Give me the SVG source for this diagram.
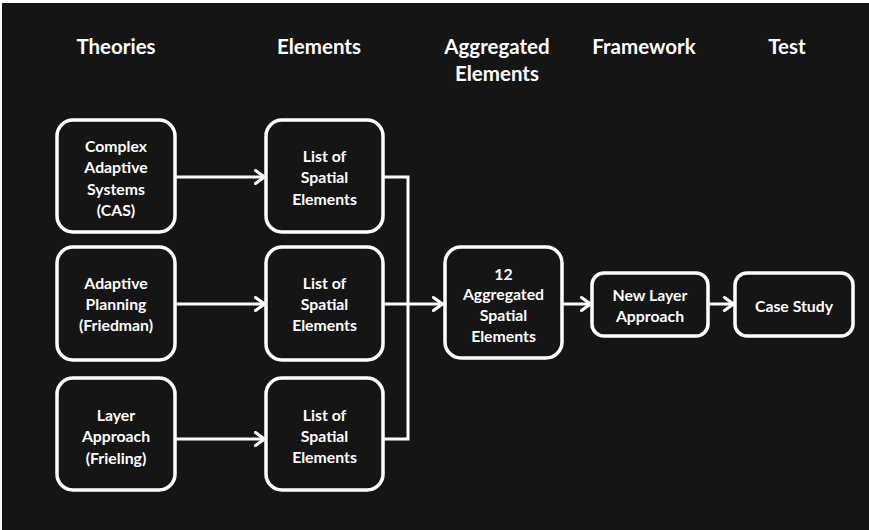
<svg xmlns="http://www.w3.org/2000/svg" width="869" height="530" viewBox="0 0 869 530">
  <defs>
    <marker id="chev" viewBox="0 0 12 16" markerWidth="12" markerHeight="16" refX="11" refY="8" orient="auto" markerUnits="userSpaceOnUse">
      <path d="M1.5,1.5 L10.5,8 L1.5,14.5" fill="none" stroke="#ffffff" stroke-width="3" stroke-linecap="round" stroke-linejoin="round"/>
    </marker>
  </defs>
  <style>
    .box { fill: #151515; stroke: #ffffff; stroke-width: 3.5; }
    .hdr { font-family: Lato, "Liberation Sans", sans-serif; font-weight: bold; font-size: 20.5px; fill: #ffffff; text-anchor: middle; }
    .lbl { font-family: Lato, "Liberation Sans", sans-serif; font-weight: bold; font-size: 15.8px; fill: #ffffff; text-anchor: middle; }
    .wire { fill: none; stroke: #ffffff; stroke-width: 3; }
  </style>

  <!-- page -->
  <rect x="0" y="0" width="869" height="530" fill="#ffffff"/>
  <rect x="2" y="3" width="867" height="527" fill="#151515"/>

  <!-- column headings -->
  <g id="headings">
    <text class="hdr" x="116" y="54">Theories</text>
    <text class="hdr" x="319" y="54">Elements</text>
    <text class="hdr" x="497" y="54">Aggregated</text>
    <text class="hdr" x="497" y="81">Elements</text>
    <text class="hdr" x="644" y="54">Framework</text>
    <text class="hdr" x="787" y="54">Test</text>
  </g>

  <!-- connectors -->
  <g id="connectors">
    <line class="wire" x1="175" y1="177" x2="265" y2="177" marker-end="url(#chev)"/>
    <line class="wire" x1="175" y1="304" x2="265" y2="304" marker-end="url(#chev)"/>
    <line class="wire" x1="175" y1="439" x2="265" y2="439" marker-end="url(#chev)"/>
    <polyline class="wire" points="383,177 408,177 408,439 383,439"/>
    <line class="wire" x1="383" y1="304" x2="443" y2="304" marker-end="url(#chev)"/>
    <line class="wire" x1="562" y1="304" x2="591" y2="304" marker-end="url(#chev)"/>
    <line class="wire" x1="708" y1="304" x2="734" y2="304" marker-end="url(#chev)"/>
  </g>

  <!-- theories -->
  <g id="cas">
    <rect class="box" x="57" y="120" width="118" height="112" rx="16"/>
    <text class="lbl" x="116" y="152">Complex</text>
    <text class="lbl" x="116" y="173">Adaptive</text>
    <text class="lbl" x="116" y="195">Systems</text>
    <text class="lbl" x="116" y="216">(CAS)</text>
  </g>
  <g id="adaptive-planning">
    <rect class="box" x="57" y="247" width="118" height="113" rx="16"/>
    <text class="lbl" x="116" y="289">Adaptive</text>
    <text class="lbl" x="116" y="310">Planning</text>
    <text class="lbl" x="116" y="331">(Friedman)</text>
  </g>
  <g id="layer-approach">
    <rect class="box" x="57" y="378" width="118" height="112" rx="16"/>
    <text class="lbl" x="116" y="421">Layer</text>
    <text class="lbl" x="116" y="442">Approach</text>
    <text class="lbl" x="116" y="464">(Frieling)</text>
  </g>

  <!-- elements -->
  <g id="elements-1">
    <rect class="box" x="266" y="120" width="117" height="112" rx="16"/>
    <text class="lbl" x="324.5" y="162">List of</text>
    <text class="lbl" x="324.5" y="183">Spatial</text>
    <text class="lbl" x="324.5" y="205">Elements</text>
  </g>
  <g id="elements-2">
    <rect class="box" x="266" y="247" width="117" height="113" rx="16"/>
    <text class="lbl" x="324.5" y="289">List of</text>
    <text class="lbl" x="324.5" y="310">Spatial</text>
    <text class="lbl" x="324.5" y="331">Elements</text>
  </g>
  <g id="elements-3">
    <rect class="box" x="266" y="378" width="117" height="112" rx="16"/>
    <text class="lbl" x="324.5" y="421">List of</text>
    <text class="lbl" x="324.5" y="442">Spatial</text>
    <text class="lbl" x="324.5" y="463">Elements</text>
  </g>

  <!-- aggregated elements -->
  <g id="aggregated">
    <rect class="box" x="445" y="247" width="117" height="111" rx="16"/>
    <text class="lbl" x="503.5" y="280">12</text>
    <text class="lbl" x="503.5" y="300">Aggregated</text>
    <text class="lbl" x="503.5" y="321">Spatial</text>
    <text class="lbl" x="503.5" y="342">Elements</text>
  </g>

  <!-- framework -->
  <g id="new-layer-approach">
    <rect class="box" x="592" y="273" width="116" height="63" rx="12"/>
    <text class="lbl" x="650" y="301">New Layer</text>
    <text class="lbl" x="650" y="322">Approach</text>
  </g>

  <!-- test -->
  <g id="case-study">
    <rect class="box" x="735" y="273" width="118" height="63" rx="12"/>
    <text class="lbl" x="794" y="312">Case Study</text>
  </g>
</svg>
